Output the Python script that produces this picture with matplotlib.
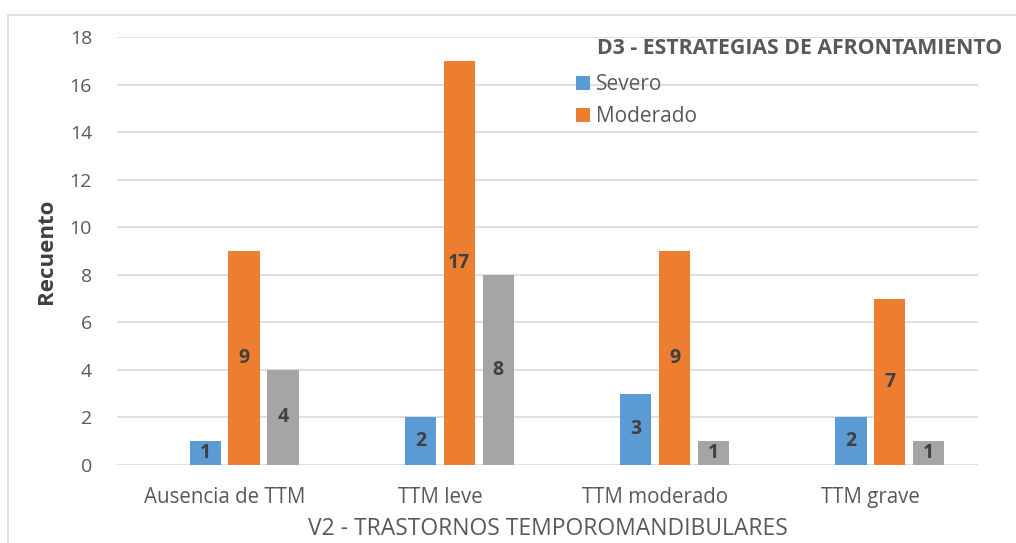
import matplotlib.pyplot as plt
import numpy as np
from matplotlib.patches import Rectangle

plt.rcParams['font.family'] = ['Open Sans', 'DejaVu Sans']

categories = ["Ausencia de TTM", "TTM leve", "TTM moderado", "TTM grave"]
severo = [1, 2, 3, 2]
moderado = [9, 17, 9, 7]
tercero = [4, 8, 1, 1]

W, H = 1016, 543
fig = plt.figure(figsize=(W / 100, H / 100), dpi=100)
ax = fig.add_axes([117 / W, 1 - 465 / H, (978 - 117) / W, (465 - 37) / H])

# outer chart border (partly cut off in the reference)
fig.patches.append(Rectangle((8 / W, -0.05), 1.1, 1 - 15 / H + 0.05,
                             transform=fig.transFigure, fill=False,
                             edgecolor='#D9D9D9', lw=1.2))

x = np.arange(len(categories))
w = 0.145
step = 0.181
series = [(severo, '#5B9BD5', 'Severo', -0.5),
          (moderado, '#ED7D31', 'Moderado', 0.5),
          (tercero, '#A5A5A5', None, 1.5)]
for vals, col, lab, off in series:
    bars = ax.bar(x + off * step, vals, w, color=col, label=lab, zorder=3)
    for b, v in zip(bars, vals):
        ax.text(b.get_x() + b.get_width() / 2, v / 2, str(v), ha='center', va='center',
                fontsize=14, fontweight='bold', color='#404040', zorder=4)

ax.set_xlim(-0.5, 3.5)
ax.set_ylim(0, 18)
ax.set_yticks(range(0, 19, 2))
ax.set_xticks(x)
ax.set_xticklabels(categories)
ax.tick_params(axis='both', length=0, labelsize=14, colors='#595959')
ax.tick_params(axis='x', labelsize=14.8, pad=16)
ax.tick_params(axis='y', pad=18)
ax.grid(axis='y', color='#D9D9D9', lw=1.2, zorder=0)
for s in ax.spines.values():
    s.set_visible(False)

ax.set_ylabel("Recuento", fontsize=16, fontweight='bold', color='#404040', labelpad=9)
ax.set_xlabel("V2 - TRASTORNOS TEMPOROMANDIBULARES", fontsize=16.5, color='#595959', labelpad=6)

leg = ax.legend(loc='upper left', bbox_to_anchor=((576 - 117) / 861, (465 - 74) / 428),
                frameon=False, fontsize=15,
                handlelength=0.65, handleheight=0.65, handletextpad=0.3,
                labelspacing=0.55, labelcolor='#595959', borderaxespad=0, borderpad=0)
fig.text(597 / W, 1 - 48 / H, "D3 - ESTRATEGIAS DE AFRONTAMIENTO", fontsize=15.3,
         fontweight='bold', color='#595959', va='center', ha='left')

fig.savefig('out.png', dpi=100)
